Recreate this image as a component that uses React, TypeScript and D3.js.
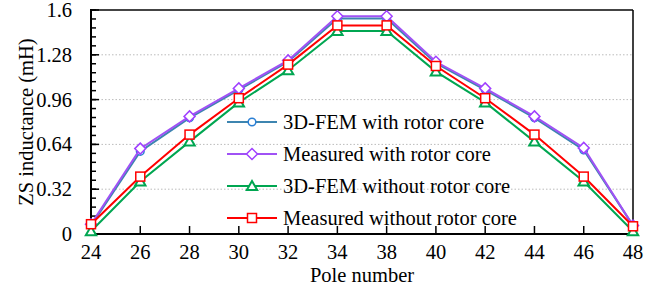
import React from 'react';
import * as d3 from 'd3';

// pole numbers on the x axis (36 is not measured)
const poles = ['24', '26', '28', '30', '32', '34', '38', '40', '42', '44', '46', '48'];
const yTicks = [0, 0.32, 0.64, 0.96, 1.28, 1.6];

const femWith = [0.06, 0.59, 0.83, 1.03, 1.23, 1.54, 1.54, 1.22, 1.03, 0.83, 0.6, 0.06];
const measWith = [0.07, 0.61, 0.84, 1.04, 1.24, 1.555, 1.555, 1.23, 1.04, 0.84, 0.615, 0.06];
const femWithout = [0.02, 0.375, 0.66, 0.94, 1.17, 1.45, 1.45, 1.16, 0.94, 0.66, 0.375, 0.02];
const measWithout = [0.07, 0.41, 0.71, 0.97, 1.21, 1.49, 1.49, 1.2, 0.97, 0.71, 0.41, 0.055];

const seriesNames = [
  '3D-FEM with rotor core',
  'Measured with rotor core',
  '3D-FEM without rotor core',
  'Measured without rotor core',
];

const left = 91, right = 633, top = 10, bottom = 234;
const font = 'Liberation Serif';
const fs = 20.5;

const x = d3.scalePoint<string>().domain(poles).range([left, right]);
const y = d3.scaleLinear().domain([0, 1.6]).range([bottom, top]);

const series = [
  { name: seriesNames[0], values: femWith, line: '#3d85b0', mark: '#2a7fd4', shape: 'circle' },
  { name: seriesNames[1], values: measWith, line: '#a052f5', mark: '#a040ff', shape: 'diamond' },
  { name: seriesNames[2], values: femWithout, line: '#00a651', mark: '#00a651', shape: 'triangle' },
  { name: seriesNames[3], values: measWithout, line: '#ff0000', mark: '#ff0000', shape: 'square' },
];

function Marker({ shape, color, cx, cy }: { shape: string; color: string; cx: number; cy: number }) {
  if (shape === 'circle') {
    return <circle cx={cx} cy={cy} r={3.8} fill="#fff" stroke={color} strokeWidth={1.5} />;
  }
  if (shape === 'diamond') {
    return <path d={`M${cx},${cy - 5.5}L${cx + 5.5},${cy}L${cx},${cy + 5.5}L${cx - 5.5},${cy}Z`}
      fill="#fff" stroke={color} strokeWidth={1.5} />;
  }
  if (shape === 'triangle') {
    return <path d={`M${cx},${cy - 5}L${cx + 5.2},${cy + 4}L${cx - 5.2},${cy + 4}Z`}
      fill="#fff" stroke={color} strokeWidth={2} />;
  }
  return <rect x={cx - 4.5} y={cy - 4.5} width={9} height={9} fill="#fff" stroke={color} strokeWidth={1.5} />;
}

export default function App() {
  const line = d3.line<number>()
    .x((d, i) => x(poles[i]) as number)
    .y(d => y(d));
  const minor = d3.range(0, 1.6001, 0.064);
  const legY = [122, 154, 186, 218];

  return (
    <svg width={664} height={294} fontFamily={font} fontSize={fs}
      style={{ display: 'block', position: 'absolute', left: 0, top: 0 }}>
      {/* gridlines */}
      {yTicks.slice(1, -1).map(t => (
        <line key={'g' + t} x1={left} x2={right} y1={y(t)} y2={y(t)}
          stroke="#bbb" strokeWidth={1} strokeDasharray="1.5,2" />
      ))}

      {/* frame */}
      <line x1={left} x2={right} y1={top} y2={top} stroke="#444" strokeWidth={2} />
      <line x1={right} x2={right} y1={top} y2={bottom} stroke="#000" strokeWidth={1.5} />
      <line x1={left} x2={left} y1={top - 1} y2={bottom + 1} stroke="#000" strokeWidth={2} />
      <line x1={left - 1} x2={right} y1={bottom} y2={bottom} stroke="#000" strokeWidth={2} />

      {/* y ticks */}
      {minor.map(t => (
        <line key={'m' + t} x1={left} x2={left + 5} y1={y(t)} y2={y(t)} stroke="#000" strokeWidth={1.5} />
      ))}
      {yTicks.map(t => (
        <g key={'y' + t}>
          <line x1={left} x2={left + 8} y1={y(t)} y2={y(t)} stroke="#000" strokeWidth={1.5} />
          <text x={left - 19} y={y(t)} dy="0.34em" textAnchor="end">{String(t)}</text>
        </g>
      ))}

      {/* x ticks */}
      {poles.map(p => (
        <g key={'x' + p}>
          <line x1={x(p)} x2={x(p)} y1={bottom} y2={bottom - 8} stroke="#000" strokeWidth={1.5} />
          <text x={x(p)} y={bottom + 25} textAnchor="middle">{p}</text>
        </g>
      ))}

      {/* axis titles */}
      <text transform={`translate(33,${(top + bottom) / 2}) rotate(-90)`} textAnchor="middle">
        ZS inductance (mH)
      </text>
      <text x={(left + right) / 2} y={282} textAnchor="middle">Pole number</text>

      {/* series */}
      {series.map(s => (
        <g key={s.name}>
          <path d={line(s.values) || ''} fill="none" stroke={s.line} strokeWidth={2} />
          {s.values.map((v, i) => (
            <Marker key={i} shape={s.shape} color={s.mark} cx={x(poles[i]) as number} cy={y(v)} />
          ))}
        </g>
      ))}

      {/* legend */}
      {series.map((s, i) => (
        <g key={'l' + s.name}>
          <line x1={227} x2={277} y1={legY[i]} y2={legY[i]} stroke={s.line} strokeWidth={2} />
          <Marker shape={s.shape} color={s.mark} cx={252} cy={legY[i]} />
          <text x={283} y={legY[i] + 7}>{s.name}</text>
        </g>
      ))}
    </svg>
  );
}
